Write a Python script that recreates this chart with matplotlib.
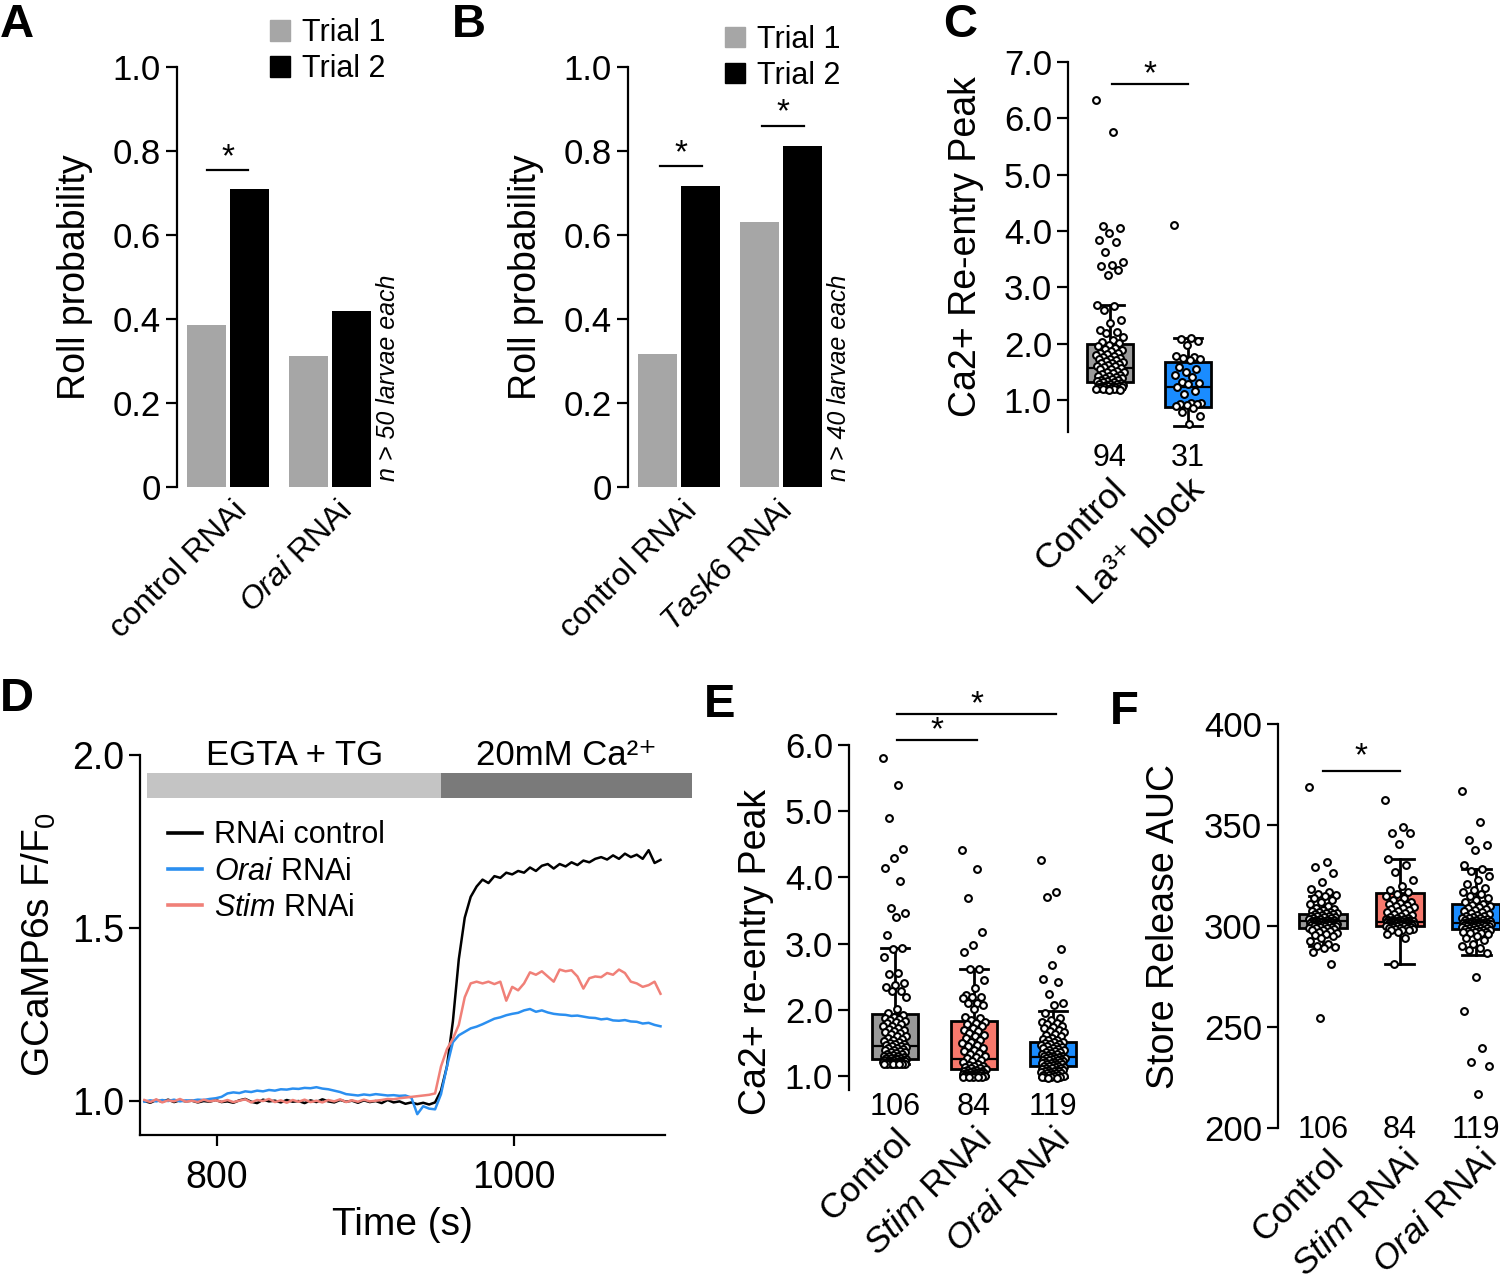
import numpy as np
import matplotlib.pyplot as plt
from matplotlib.patches import Patch, Rectangle

plt.rcParams['font.family'] = ['Liberation Sans', 'DejaVu Sans']
plt.rcParams['mathtext.fontset'] = 'custom'
plt.rcParams['mathtext.rm'] = 'Liberation Sans'
plt.rcParams['mathtext.it'] = 'Liberation Sans:italic'
plt.rcParams['axes.linewidth'] = 1.6
NARROW = ['Liberation Sans Narrow', 'Liberation Sans', 'DejaVu Sans']

# ---- panel A / B : roll probability ----
groups_a = ['control RNAi', r'$\mathit{Orai}$ RNAi']
trial1_a = [0.386, 0.312]
trial2_a = [0.710, 0.419]
groups_b = ['control RNAi', r'$\mathit{Task6}$ RNAi']
trial1_b = [0.317, 0.631]
trial2_b = [0.717, 0.812]

# ---- panel C : Ca2+ re-entry peak ----
groups_c = ['Control', 'La³⁺ block']
counts_c = ['94', '31']
c_control = [6.33, 5.76, 4.08, 4.06, 3.96, 3.84, 3.80, 3.63, 3.44, 3.39, 3.37, 3.31, 3.22,
             2.68, 2.66, 2.60, 2.42, 2.36, 2.24, 2.20, 2.18, 2.12, 2.06, 2.03, 2.01,
             1.98, 1.95, 1.92, 1.90, 1.88, 1.86, 1.84, 1.83, 1.81, 1.80, 1.78, 1.76, 1.75,
             1.73, 1.72, 1.70, 1.69, 1.67, 1.66, 1.65, 1.64, 1.62, 1.61, 1.60, 1.58, 1.57,
             1.55, 1.54, 1.52, 1.50, 1.49, 1.47, 1.46, 1.44, 1.43, 1.42, 1.40, 1.39, 1.38,
             1.37, 1.36, 1.35, 1.34, 1.33, 1.32, 1.31, 1.30, 1.29, 1.28, 1.28, 1.27, 1.26,
             1.25, 1.25, 1.24, 1.24, 1.23, 1.23, 1.22, 1.22, 1.21, 1.21, 1.20, 1.20, 1.20,
             1.19, 1.19, 1.18, 1.18]
c_la = [4.10, 2.10, 2.08, 2.05, 1.97, 1.78, 1.76, 1.74, 1.72, 1.70, 1.58, 1.55, 1.50, 1.45,
        1.40, 1.32, 1.30, 1.28, 1.22, 1.15, 1.10, 0.95, 0.94, 0.93, 0.92, 0.91, 0.90, 0.85,
        0.78, 0.72, 0.58]
# box stats: q1, median, q3, lower whisker, upper whisker
c_box = [(1.31, 1.57, 1.99, 1.20, 2.69), (0.88, 1.22, 1.67, 0.54, 2.09)]

# ---- panel D : GCaMP6s traces ----
time_d = np.arange(751, 1100, 4)
trace_ctrl = [1.000, 0.995, 1.003, 0.998, 1.004, 0.997, 1.002, 0.999, 1.001, 0.996,
              1.000, 0.998, 1.003, 0.997, 0.999, 0.995, 1.002, 1.006, 0.998, 0.994,
              1.004, 0.999, 1.001, 0.996, 1.003, 0.998, 1.000, 0.994, 1.002, 0.997,
              1.005, 0.999, 0.996, 1.003, 0.998, 1.001, 0.995, 1.002, 0.997, 1.000,
              0.994, 1.003, 0.996, 0.999, 0.992, 0.996, 0.991, 0.995, 0.990, 0.996,
              1.030, 1.100, 1.230, 1.410, 1.530, 1.590, 1.620, 1.640, 1.630, 1.650,
              1.645, 1.660, 1.655, 1.665, 1.660, 1.675, 1.665, 1.680, 1.685, 1.672,
              1.685, 1.678, 1.690, 1.682, 1.695, 1.690, 1.700, 1.705, 1.698, 1.710,
              1.700, 1.715, 1.705, 1.712, 1.700, 1.725, 1.688, 1.697]
trace_orai = [0.998, 1.002, 0.999, 1.003, 1.000, 1.004, 0.999, 1.002, 1.001, 1.004,
              1.003, 1.006, 1.008, 1.012, 1.022, 1.025, 1.023, 1.028, 1.026, 1.030,
              1.028, 1.032, 1.030, 1.034, 1.033, 1.036, 1.035, 1.038, 1.037, 1.040,
              1.036, 1.034, 1.030, 1.026, 1.020, 1.018, 1.016, 1.019, 1.017, 1.020,
              1.018, 1.016, 1.017, 1.015, 1.016, 1.010, 0.962, 0.985, 0.978, 0.976,
              1.020, 1.100, 1.170, 1.190, 1.200, 1.210, 1.215, 1.222, 1.230, 1.238,
              1.242, 1.248, 1.252, 1.255, 1.262, 1.266, 1.258, 1.262, 1.256, 1.252,
              1.250, 1.249, 1.246, 1.247, 1.244, 1.241, 1.240, 1.236, 1.238, 1.233,
              1.232, 1.234, 1.230, 1.229, 1.224, 1.226, 1.220, 1.216]
trace_stim = [1.003, 0.997, 1.005, 0.996, 1.002, 0.999, 1.006, 0.998, 1.001, 0.997,
              1.004, 0.999, 1.002, 0.998, 1.003, 0.997, 1.001, 1.005, 0.996, 1.003,
              1.000, 1.006, 0.997, 1.002, 0.995, 1.003, 0.998, 1.004, 0.997, 1.001,
              0.996, 1.003, 0.999, 1.005, 0.997, 1.002, 0.998, 1.004, 0.999, 1.001,
              1.003, 1.006, 1.005, 1.008, 1.010, 1.012, 1.014, 1.016, 1.018, 1.022,
              1.100, 1.150, 1.180, 1.220, 1.300, 1.340, 1.345, 1.340, 1.345, 1.338,
              1.345, 1.290, 1.330, 1.320, 1.340, 1.372, 1.365, 1.375, 1.360, 1.345,
              1.380, 1.375, 1.378, 1.360, 1.325, 1.355, 1.360, 1.358, 1.370, 1.365,
              1.380, 1.370, 1.345, 1.340, 1.330, 1.335, 1.345, 1.310]
phase_labels = ['EGTA + TG', '20mM Ca²⁺']
phase_edges = [753, 951, 1120]

# ---- panel E : Ca2+ re-entry peak, RNAi ----
groups_e = ['Control', r'$\mathit{Stim}$ RNAi', r'$\mathit{Orai}$ RNAi']
counts_e = ['106', '84', '119']
e_control = [5.81, 5.39, 4.90, 4.43, 4.29, 4.14, 3.94, 3.54, 3.47, 3.40, 3.13, 2.94, 2.92,
             2.80, 2.55, 2.54, 2.40, 2.37, 2.35, 2.29, 2.28, 2.19, 2.02, 1.95,
             1.92, 1.90, 1.88, 1.86, 1.85, 1.83, 1.81, 1.80, 1.78, 1.76,
             1.75, 1.73, 1.71, 1.70, 1.68, 1.66, 1.65, 1.63, 1.61, 1.60,
             1.58, 1.56, 1.55, 1.53, 1.52, 1.50, 1.49, 1.48, 1.47, 1.46,
             1.45, 1.44, 1.43, 1.42, 1.41, 1.40, 1.39, 1.38, 1.37, 1.36,
             1.35, 1.34, 1.33, 1.32, 1.31, 1.30, 1.30, 1.29, 1.28, 1.28,
             1.27, 1.27, 1.26, 1.26, 1.25, 1.25, 1.24, 1.24, 1.23, 1.23,
             1.23, 1.22, 1.22, 1.22, 1.21, 1.21, 1.21, 1.20, 1.20, 1.20,
             1.20, 1.20, 1.19, 1.19, 1.19, 1.19, 1.18, 1.18, 1.18, 1.18]
e_stim = [4.41, 4.13, 3.69, 3.18, 2.98, 2.87, 2.62, 2.62, 2.45, 2.33, 2.23, 2.20, 2.19, 2.18,
          2.10, 2.10, 2.07, 2.01, 1.90, 1.88,
          1.85, 1.82, 1.80, 1.78, 1.75, 1.72, 1.70, 1.68, 1.65, 1.62,
          1.60, 1.57, 1.55, 1.52, 1.50, 1.47, 1.45, 1.42, 1.40, 1.38,
          1.35, 1.33, 1.31, 1.29, 1.27, 1.25, 1.23, 1.21, 1.19, 1.17,
          1.16, 1.15, 1.14, 1.13, 1.12, 1.11, 1.10, 1.09, 1.08, 1.07,
          1.07, 1.06, 1.06, 1.05, 1.05, 1.04, 1.04, 1.03, 1.03, 1.02,
          1.02, 1.02, 1.01, 1.01, 1.01, 1.00, 1.00, 1.00, 1.00, 0.99,
          0.99, 0.99, 0.98, 0.98]
e_orai = [4.27, 3.78, 3.70, 2.92, 2.68, 2.46, 2.42, 2.24, 2.10, 2.08, 1.96, 1.88, 1.85, 1.82, 1.80,
          1.78, 1.76, 1.74, 1.72, 1.70, 1.68, 1.66, 1.64, 1.62, 1.60,
          1.58, 1.56, 1.55, 1.54, 1.52, 1.51, 1.50, 1.49, 1.48, 1.47,
          1.46, 1.45, 1.44, 1.43, 1.42, 1.41, 1.40, 1.39, 1.38, 1.37,
          1.36, 1.35, 1.34, 1.33, 1.32, 1.31, 1.30, 1.30, 1.29, 1.29,
          1.28, 1.28, 1.27, 1.26, 1.26, 1.25, 1.24, 1.24, 1.23, 1.22,
          1.22, 1.21, 1.20, 1.20, 1.19, 1.18, 1.18, 1.17, 1.16, 1.16,
          1.15, 1.14, 1.14, 1.13, 1.12, 1.12, 1.11, 1.10, 1.10, 1.09,
          1.08, 1.08, 1.07, 1.06, 1.06, 1.05, 1.04, 1.04, 1.03, 1.02,
          1.02, 1.01, 1.00, 1.00, 0.99, 0.99, 0.98, 0.98, 0.97, 0.97]
e_box = [(1.26, 1.46, 1.94, 1.18, 2.93), (1.115, 1.265, 1.83, 1.00, 2.62),
         (1.15, 1.29, 1.51, 0.98, 1.99)]

# ---- panel F : store release AUC ----
groups_f = ['Control', r'$\mathit{Stim}$ RNAi', r'$\mathit{Orai}$ RNAi']
counts_f = ['106', '84', '119']
f_control = [369, 331.5, 329, 326, 322, 318.5, 317, 316, 315.5, 315, 314, 313, 312, 311, 310,
             309, 308.5, 308, 307.5, 307, 306.8, 306.5, 306.2, 306, 305.8,
             305.5, 305.2, 305, 304.8, 304.5, 304.3, 304, 303.8, 303.6, 303.4,
             303.2, 303, 302.8, 302.6, 302.5, 302.4, 302.3, 302.2, 302.1, 302,
             301.9, 301.8, 301.7, 301.6, 301.5, 301.4, 301.3, 301.2, 301.1, 301,
             300.9, 300.8, 300.7, 300.6, 300.5, 300.4, 300.3, 300.2, 300.1, 300,
             299.8, 299.6, 299.4, 299.2, 299, 298.8, 298.5, 298.2, 298, 297.5,
             297, 296.5, 296, 295.5, 295,
             294, 292.6, 291, 290, 289.6, 289, 287, 281.3, 254.6]
f_stim = [362.2, 349.2, 346.2, 345.8, 340.8, 333, 330, 326.9, 322.6, 319.6, 318, 317, 316, 315, 314,
          313, 312, 311.5, 311, 310.5, 310, 309.5, 309, 308.5, 308,
          307.5, 307, 306.5, 306, 305.5, 305, 304.5, 304, 303.8, 303.6,
          303.4, 303.2, 303, 302.9, 302.8, 302.7, 302.6, 302.5, 302.4, 302.3,
          302.2, 302.1, 302, 301.9, 301.8, 301.7, 301.6, 301.5, 301.4, 301.3,
          301.2, 301.1, 301, 300.9, 300.8, 300.7, 300.6, 300.5, 300.4, 300.3,
          300.2, 300.1, 300, 299.9, 299.8, 299.6, 299.4, 299.2, 299, 298.8,
          298.6, 298.4, 298.2, 298.1,
          298, 297, 296, 294, 281.2]
f_orai = [366.8, 351.6, 342.6, 340.1, 337.6, 330.2, 328, 327, 325, 323, 321, 319, 318, 317,
          316, 315, 314, 313, 312,
          311, 310.5, 310, 309.5, 309, 308.5, 308, 307.5, 307, 306.5,
          306, 305.5, 305, 304.8, 304.5, 304.2, 304, 303.8, 303.5, 303.2,
          303, 302.8, 302.6, 302.4, 302.2, 302, 301.9, 301.8, 301.7, 301.6,
          301.5, 301.4, 301.3, 301.2, 301.1, 301, 300.9, 300.8, 300.7, 300.6,
          300.5, 300.4, 300.3, 300.2, 300.1, 300, 299.9, 299.8, 299.6, 299.4,
          299.2, 299, 298.8, 298.6, 298.4, 298.2, 298, 297.8, 297.6, 297.4,
          297.2, 297, 296.8, 296.6, 296.4,
          296, 295, 294, 293, 291, 290, 289, 288, 286.6, 274.9, 257.9, 239.8, 232.8, 230.7, 216.7]
f_box = [(298.9, 302.5, 305.9, 290.2, 315.0), (300.0, 302.1, 316.3, 281.2, 333.0),
         (298.4, 301.6, 310.7, 285.6, 328.1)]

GRAY1 = '#a6a6a6'
BOX_COLORS = ['#999999', '#f7786c', '#1a8cff']
TICK_FS = 25
LABEL_FS = 27

fig = plt.figure(figsize=(15, 12.83), dpi=100)


def left_axis_only(ax):
    for s in ['top', 'right', 'bottom']:
        ax.spines[s].set_visible(False)
    ax.tick_params(axis='y', labelsize=TICK_FS, length=8, width=1.6)
    ax.tick_params(axis='x', length=0)


def sig(ax, x0, x1, y, ys, fs=24):
    ax.plot([x0, x1], [y, y], color='black', lw=1.6, clip_on=False)
    ax.text((x0 + x1) / 2, ys, '*', ha='center', va='center', fontsize=fs, clip_on=False)


def bar_panel(ax, groups, t1, t2, note, cat_dx, leg_xy):
    x = np.arange(len(groups))
    ax.bar(x - 0.21, t1, width=0.38, color=GRAY1)
    ax.bar(x + 0.21, t2, width=0.38, color='black')
    ax.set_xlim(-0.5, 1.44)
    ax.set_ylim(0, 1.0)
    ax.set_yticks([0, 0.2, 0.4, 0.6, 0.8, 1.0])
    ax.set_yticklabels(['0', '0.2', '0.4', '0.6', '0.8', '1.0'])
    ax.set_xticks([])
    left_axis_only(ax)
    ax.set_ylabel('Roll probability', fontsize=LABEL_FS, labelpad=14)
    for i, g in enumerate(groups):
        ax.text(i + cat_dx[i], -0.02, g, rotation=45, rotation_mode='anchor',
                ha='right', va='top', fontsize=23, transform=ax.get_xaxis_transform())
    ax.text(1.57, 0.015, note, rotation=90, style='italic', fontsize=18, family=NARROW,
            ha='center', va='bottom', transform=ax.get_xaxis_transform())
    ax.legend(handles=[Patch(color=GRAY1), Patch(color='black')],
              labels=['Trial 1', 'Trial 2'], loc='upper left', bbox_to_anchor=leg_xy,
              frameon=False, fontsize=22, handlelength=0.65, handleheight=0.65,
              handletextpad=0.4, labelspacing=0.2, borderaxespad=0)


def box_panel(ax, groups, counts, data, boxes, colors, width, spread, count_y, cat_dx, cat_y):
    for i, (vals, b, col) in enumerate(zip(data, boxes, colors)):
        q1, med, q3, lo, hi = b
        stats = [dict(med=med, q1=q1, q3=q3, whislo=lo, whishi=hi, fliers=[])]
        ax.bxp(stats, positions=[i], widths=width, patch_artist=True, showfliers=False,
               capwidths=width * 0.6,
               boxprops=dict(facecolor=col, edgecolor='black', lw=2),
               medianprops=dict(color='black', lw=1.6),
               whiskerprops=dict(color='black', lw=2),
               capprops=dict(color='black', lw=2))
        n = len(vals)
        offs = ((np.arange(n) * 0.6180339) % 1 - 0.5) * spread
        ax.scatter(i + offs, vals, s=24, facecolor='white', edgecolor='black',
                   linewidth=1.5, zorder=5, clip_on=False)
    ax.set_xticks([])
    left_axis_only(ax)
    for i, (g, c) in enumerate(zip(groups, counts)):
        ax.text(i, count_y, c, ha='center', va='center', fontsize=22, family=NARROW,
                transform=ax.get_xaxis_transform())
        ax.text(i + cat_dx, cat_y, g, rotation=45, rotation_mode='anchor',
                ha='right', va='top', fontsize=25.5, transform=ax.get_xaxis_transform())


# A
axA = fig.add_axes([0.118, 0.6204, 0.132, 0.3274])
bar_panel(axA, groups_a, trial1_a, trial2_a, 'n > 50 larvae each', [0.04, 0.07], (0.41, 1.145))
sig(axA, -0.206, 0.196, 0.755, 0.785)

# B
axB = fig.add_axes([0.4187, 0.6204, 0.132, 0.3274])
bar_panel(axB, groups_b, trial1_b, trial2_b, 'n > 40 larvae each', [0.03, -0.04], (0.43, 1.13))
sig(axB, -0.186, 0.225, 0.764, 0.794)
sig(axB, 0.81, 1.22, 0.86, 0.89)

# C
axC = fig.add_axes([0.712, 0.6633, 0.108, 0.2884])
box_panel(axC, groups_c, counts_c, [c_control, c_la], c_box, [BOX_COLORS[0], BOX_COLORS[2]],
          0.59, 0.36, -0.07, 0.0, -0.11)
axC.set_xlim(-0.54, 1.54)
axC.set_ylim(0.43, 7.0)
axC.set_yticks([1, 2, 3, 4, 5, 6, 7])
axC.set_yticklabels(['1.0', '2.0', '3.0', '4.0', '5.0', '6.0', '7.0'])
axC.set_ylabel('Ca2+ Re-entry Peak', fontsize=LABEL_FS, labelpad=14)
sig(axC, 0.03, 1.0, 6.61, 6.77)

# D
axD = fig.add_axes([0.0933, 0.1154, 0.35, 0.2961])
axD.plot(time_d, trace_ctrl, color='black', lw=1.8, label='RNAi control')
axD.plot(time_d, trace_orai, color='#2b8ff0', lw=1.8, label=r'$\mathit{Orai}$ RNAi')
axD.plot(time_d, trace_stim, color='#f08078', lw=1.8, label=r'$\mathit{Stim}$ RNAi')
axD.set_xlim(748, 1102)
axD.set_ylim(0.902, 2.0)
axD.set_xticks([800, 1000])
axD.set_yticks([1.0, 1.5, 2.0])
for s in ['top', 'right']:
    axD.spines[s].set_visible(False)
axD.tick_params(labelsize=27, length=8, width=1.6)
axD.tick_params(axis='x', pad=10)
axD.set_xlabel('Time (s)', fontsize=28, labelpad=8)
axD.set_ylabel('GCaMP6s F/F$_0$', fontsize=28, labelpad=10)
for k, (lab, col) in enumerate(zip(phase_labels, ['#c4c4c4', '#7a7a7a'])):
    x0, x1 = phase_edges[k], phase_edges[k + 1]
    axD.add_patch(Rectangle((x0, 1.876), x1 - x0, 0.072, color=col, clip_on=False, lw=0))
    axD.text((x0 + x1) / 2, 2.0, lab, ha='center', va='center', fontsize=25)
axD.legend(loc='upper left', bbox_to_anchor=(0.03, 0.86), frameon=False, fontsize=22,
           handlelength=1.1, handletextpad=0.4, labelspacing=0.2, borderaxespad=0)
for h in axD.get_legend().legend_handles:
    h.set_linewidth(2.6)

# E
axE = fig.add_axes([0.566, 0.1504, 0.157, 0.2689])
box_panel(axE, groups_e, counts_e, [e_control, e_stim, e_orai], e_box, BOX_COLORS,
          0.58, 0.3, -0.049, 0.0, -0.095)
axE.set_xlim(-0.58, 2.4)
axE.set_ylim(0.79, 6.0)
axE.set_yticks([1, 2, 3, 4, 5, 6])
axE.set_yticklabels(['1.0', '2.0', '3.0', '4.0', '5.0', '6.0'])
axE.set_ylabel('Ca2+ re-entry Peak', fontsize=LABEL_FS, labelpad=8, y=0.4)
sig(axE, 0.03, 1.04, 6.08, 6.22)
sig(axE, 0.03, 2.04, 6.47, 6.61)

# F
axF = fig.add_axes([0.852, 0.1208, 0.148, 0.3149])
box_panel(axF, groups_f, counts_f, [f_control, f_stim, f_orai], f_box, BOX_COLORS,
          0.63, 0.38, -0.005, 0.04, -0.04)
axF.set_xlim(-0.59, 2.31)
axF.set_ylim(200, 400)
axF.set_yticks([200, 250, 300, 350, 400])
axF.set_ylabel('Store Release AUC', fontsize=LABEL_FS, labelpad=16)
sig(axF, 0.0, 1.0, 376.7, 383.7)

for lab, x, y in [('A', 0.0, 0.998), ('B', 0.301, 0.998), ('C', 0.629, 0.998),
                  ('D', 0.0, 0.472), ('E', 0.469, 0.468), ('F', 0.74, 0.462)]:
    fig.text(x, y, lab, fontsize=34, fontweight='bold', ha='left', va='top')

fig.savefig('out.png', dpi=100)
